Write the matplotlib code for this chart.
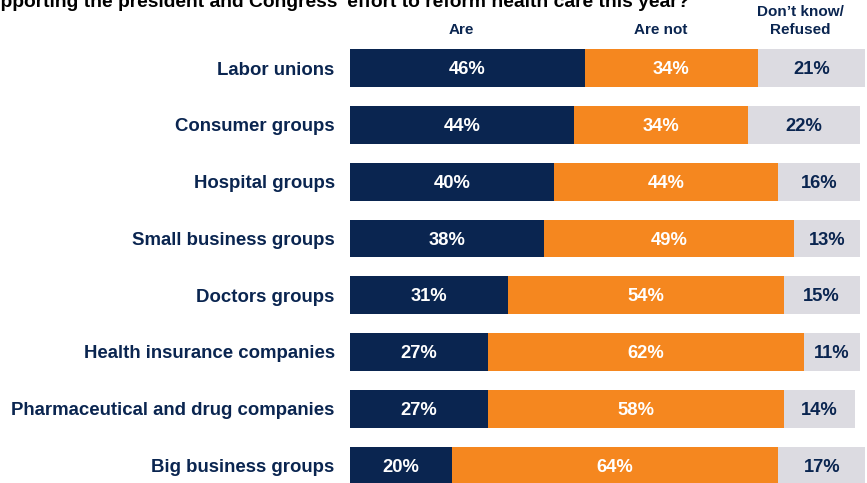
import matplotlib
matplotlib.use("Agg")
from matplotlib import pyplot as plt
import numpy as np

# data
groups = ["Labor unions", "Consumer groups", "Hospital groups",
          "Small business groups", "Doctors groups",
          "Health insurance companies", "Pharmaceutical and drug companies",
          "Big business groups"]
are = [46, 44, 40, 38, 31, 27, 27, 20]
are_not = [34, 34, 44, 49, 54, 62, 58, 64]
dont_know = [21, 22, 16, 13, 15, 11, 14, 17]
series_names = ["Are", "Are not", "Don\u2019t know/\nRefused"]
title = "supporting the president and Congress\u2019 effort to reform health care this year?"

NAVY = "#0a2550"
ORANGE = "#f5871f"
GRAY = "#dcdbe1"

plt.rcParams["font.family"] = ["Liberation Sans", "DejaVu Sans"]
plt.rcParams["font.weight"] = "bold"

W, H = 867, 483
fig = plt.figure(figsize=(W / 100, H / 100), dpi=100)
# axes spans from x=350px to right edge, full height
ax = fig.add_axes([350 / W, 0, 1 - 350 / W, 1])

y = np.arange(len(groups))
row_px = 56.7
ax.set_ylim(7 + (H - 465.5) / row_px, -68 / row_px)
ax.set_xlim(0, (W - 350) / 5.1)

bar_h = 0.665
left = np.zeros(len(groups))
for vals, color, tcolor in [(are, NAVY, "white"),
                            (are_not, ORANGE, "white"),
                            (dont_know, GRAY, NAVY)]:
    vals = np.array(vals)
    ax.barh(y, vals, left=left, height=bar_h, color=color, edgecolor="none")
    for yi, l, v in zip(y, left, vals):
        ax.text(l + v / 2, yi + 0.03, f"{v}%", ha="center", va="center",
                color=tcolor, fontsize=13.2, fontweight="bold")
    left = left + vals

ax.set_yticks(y)
ax.set_yticklabels(groups, fontsize=13.4, fontweight="bold", color=NAVY)
ax.tick_params(axis="y", length=0, pad=11)
ax.set_xticks([])
for s in ax.spines.values():
    s.set_visible(False)

# column headers
fig.text(461 / W, 1 - 30 / H, series_names[0], ha="center", va="center",
         fontsize=11, fontweight="bold", color=NAVY)
fig.text(661 / W, 1 - 30 / H, series_names[1], ha="center", va="center",
         fontsize=11, fontweight="bold", color=NAVY)
fig.text(800 / W, 1 - 21 / H, series_names[2], ha="center", va="center",
         fontsize=11, fontweight="bold", color=NAVY, linespacing=1.3)

# title, cut off by the top of the figure
fig.text(-22 / W, 1 - 7 / H, title, ha="left", va="baseline",
         fontsize=13.9, fontweight="bold", color="black")

fig.savefig("out.png", dpi=100)
